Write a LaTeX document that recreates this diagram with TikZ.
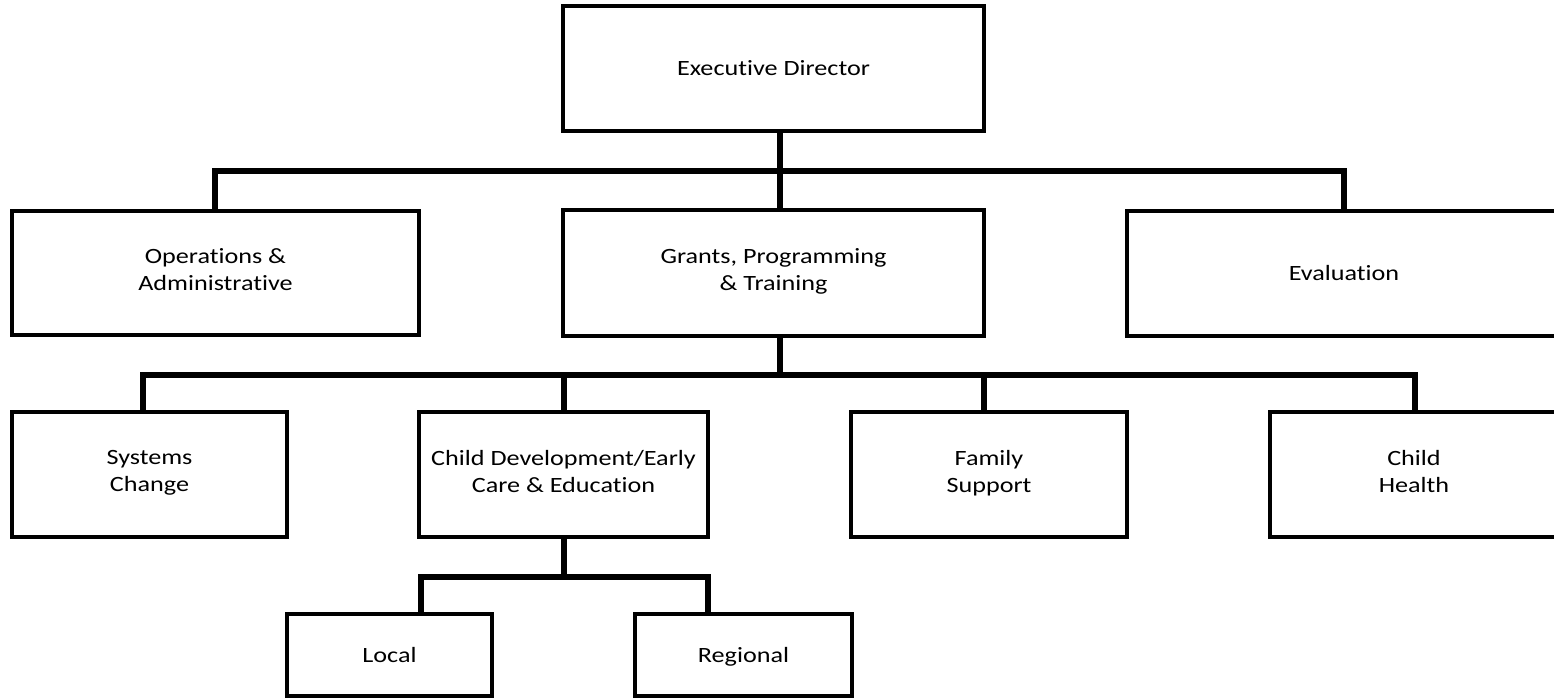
\documentclass[tikz,border=0pt]{standalone}
\usepackage{fontspec}
\setmainfont{Carlito}[FakeStretch=1.2,Ligatures=NoCommon]
\newcommand\capstrut{\rule[-3.2pt]{0pt}{13.4pt}}
\begin{document}
\begin{tikzpicture}[x=0.5pt,y=-0.5pt,
  box/.style={draw,line width=1.75pt,inner sep=0pt,align=center,
    font=\fontsize{10.9}{13.4}\selectfont,
    execute at begin node=\capstrut, execute at end node=\capstrut},
  conn/.style={line width=3.25pt}]
\useasboundingbox (0,0) rectangle (1554,697);
\clip (0,0) rectangle (1554,697);

% boxes
\node[box,minimum width=210.5pt,minimum height=62.5pt] (exec) at (773.5,68.5) {Executive Director};
\node[box,minimum width=203.5pt,minimum height=62pt] (ops) at (215.5,273) {Operations \&\\Administrative};
\node[box,minimum width=210.5pt,minimum height=63pt] (grants) at (773.5,273) {Grants, Programming\\\& Training};
\node[box,minimum width=217pt,minimum height=62.5pt] (eval) at (1344,273.5) {Evaluation};
\node[box,minimum width=137.5pt,minimum height=62.5pt] (sys) at (149.5,474.5) {Systems\\Change};
\node[box,minimum width=144.5pt,minimum height=62.5pt] (cd) at (563.5,474.5) {Child Development/Early\\Care \& Education};
\node[box,minimum width=138pt,minimum height=62.5pt] (fam) at (989,474.5) {Family\\Support};
\node[box,minimum width=144pt,minimum height=62.5pt] (health) at (1414,474.5) {Child\\Health};
\node[box,minimum width=102.5pt,minimum height=41pt] (local) at (389.5,655) {Local};
\node[box,minimum width=108.5pt,minimum height=41pt] (regional) at (743.5,655) {Regional};

% bus coordinates
\coordinate (b1) at (780,171);
\coordinate (b1l) at (215,171);
\coordinate (b1r) at (1344,171);
\coordinate (b2) at (780,375);
\coordinate (b2l) at (143,375);
\coordinate (b2r) at (1415,375);
\coordinate (b2a) at (564,375);
\coordinate (b2b) at (984,375);
\coordinate (b3) at (564,577);
\coordinate (b3l) at (421,577);
\coordinate (b3r) at (708,577);

% connectors level 1
\draw[conn] (exec.south -| b1) -- (grants.north -| b1);
\draw[conn] (ops.north -| b1l) -- (b1l) -- (b1r) -- (eval.north -| b1r);

% connectors level 2
\draw[conn] (grants.south -| b2) -- (b2);
\draw[conn] (sys.north -| b2l) -- (b2l) -- (b2r) -- (health.north -| b2r);
\draw[conn] (b2a) -- (cd.north -| b2a);
\draw[conn] (b2b) -- (fam.north -| b2b);

% connectors level 3
\draw[conn] (cd.south -| b3) -- (b3);
\draw[conn] (local.north -| b3l) -- (b3l) -- (b3r) -- (regional.north -| b3r);
\end{tikzpicture}
\end{document}
